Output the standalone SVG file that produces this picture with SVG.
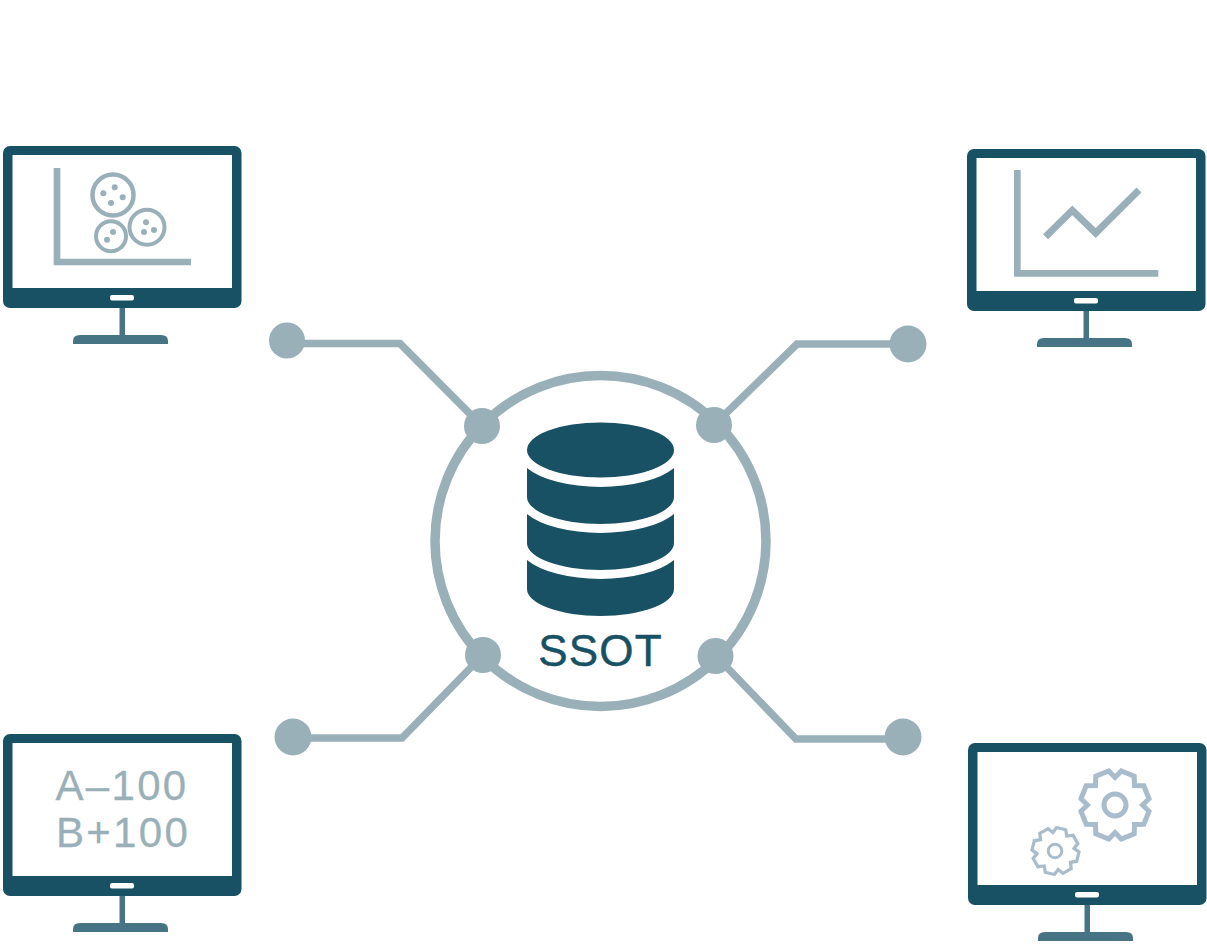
<svg xmlns="http://www.w3.org/2000/svg" width="1207" height="946" viewBox="0 0 1207 946">
<style>
.dark{fill:#185163}
.stand{fill:#477485}
.lt{fill:#9ab0b9}
.axis{fill:none;stroke:#9ab0b9;stroke-width:6.700}
.ring{fill:none;stroke:#9ab0b9}
.gear{fill:none;stroke:#a9bccb;stroke-linejoin:miter}
.wire{fill:none;stroke:#9ab0b9;stroke-width:7.500}
.num{font-family:"Liberation Sans",Arial,sans-serif;font-size:42px;letter-spacing:2.300px;fill:#9ab0b9;stroke:#9ab0b9;stroke-width:.3px;text-anchor:middle}
.ssot{font-family:"Liberation Sans",Arial,sans-serif;font-size:44px;letter-spacing:1.200px;fill:#185163;stroke:#185163;stroke-width:.5px;text-anchor:middle}
</style>
<defs>
<g id="monitor">
<rect class="dark" x="3" y="146" width="238.500" height="162" rx="7"/>
<rect x="12.500" y="155" width="219.500" height="133" fill="#fff"/>
<rect x="110" y="295" width="24" height="5.500" rx="2" fill="#fff"/>
<rect class="stand" x="119.500" y="308" width="5.500" height="28"/>
<path class="stand" d="M73 344V341Q73 335 80 335H161Q168 335 168 341V344Z"/>
</g>
<path id="gearShape" d="M0-27.500L6.300-34L19.200-28.800L19.500-19.500L28.800-19.200L34-6.300L27.500 0L34 6.300L28.800 19.200L19.500 19.500L19.200 28.800L6.300 34L0 27.500L-6.300 34L-19.200 28.800L-19.500 19.500L-28.800 19.200L-34 6.300L-27.500 0L-34-6.300L-28.800-19.200L-19.500-19.500L-19.200-28.800L-6.300-34Z"/>
</defs>
<g id="connectors">
<circle class="ring" cx="600.500" cy="541" r="165.500" stroke-width="9.500"/>
<path class="wire" d="M287 343.500H400L482 426"/>
<path class="wire" d="M908 344H797L714 425"/>
<path class="wire" d="M293 738H402L483 655"/>
<path class="wire" d="M903 739H796L716 656"/>
</g>
<g id="junctions">
<circle class="lt" cx="482" cy="426" r="18"/>
<circle class="lt" cx="714" cy="425" r="18"/>
<circle class="lt" cx="483" cy="655" r="18"/>
<circle class="lt" cx="715.500" cy="656" r="18"/>
</g>
<g id="port-tl"><circle class="lt" cx="287" cy="340.500" r="18"/></g>
<g id="port-tr"><circle class="lt" cx="908" cy="344" r="18.500"/></g>
<g id="port-bl"><circle class="lt" cx="293" cy="737" r="18.500"/></g>
<g id="port-br"><circle class="lt" cx="903" cy="737" r="18.500"/></g>
<g id="ssot">
<ellipse class="dark" cx="600.500" cy="450" rx="73.500" ry="27.500"/>
<path class="dark" d="M527 468A82 34 0 0 0 674 468V497A73.500 27 0 0 1 527 497Z"/>
<path class="dark" d="M527 514A82 34 0 0 0 674 514V543A73.500 27 0 0 1 527 543Z"/>
<path class="dark" d="M527 560A82 34 0 0 0 674 560V589A73.500 27 0 0 1 527 589Z"/>
<text class="ssot" x="600.500" y="666">SSOT</text>
</g>
<g id="monitor-scatter">
<use href="#monitor"/>
<path class="axis" d="M57 168V262H191"/>
<circle class="ring" cx="113" cy="195" r="20.500" stroke-width="4.500"/>
<circle class="ring" cx="147" cy="227.300" r="17.500" stroke-width="4"/>
<circle class="ring" cx="111" cy="236.300" r="15" stroke-width="4"/>
<circle class="lt" cx="103.300" cy="193.300" r="3"/>
<circle class="lt" cx="114.700" cy="187.300" r="3"/>
<circle class="lt" cx="122.700" cy="197.300" r="3"/>
<circle class="lt" cx="111" cy="203" r="3"/>
<circle class="lt" cx="146" cy="222.300" r="3"/>
<circle class="lt" cx="154" cy="230" r="3"/>
<circle class="lt" cx="144" cy="232" r="3"/>
<circle class="lt" cx="113" cy="232" r="3"/>
<circle class="lt" cx="107" cy="239.700" r="3"/>
</g>
<g id="monitor-line">
<use href="#monitor" x="964" y="3"/>
<path class="axis" d="M1017.300 170V273.300H1158.300"/>
<path class="axis" d="M1045.500 236.700L1072.300 210.300L1095.700 233L1139 190" style="stroke-width:7"/>
</g>
<g id="monitor-ledger">
<use href="#monitor" y="588"/>
<text class="num" x="122" y="800">A–100</text>
<text class="num" x="123" y="847">B+100</text>
</g>
<g id="monitor-gears">
<use href="#monitor" x="965" y="597"/>
<use href="#gearShape" class="gear" transform="translate(1115 805)" stroke-width="5"/>
<circle cx="1115" cy="805" r="11" fill="none" stroke="#a9bccb" stroke-width="5"/>
<use href="#gearShape" class="gear" transform="translate(1055.500 851) rotate(-8) scale(.68)" stroke-width="4.800"/>
<circle cx="1055" cy="851" r="6.800" fill="none" stroke="#a9bccb" stroke-width="3"/>
</g>
</svg>
